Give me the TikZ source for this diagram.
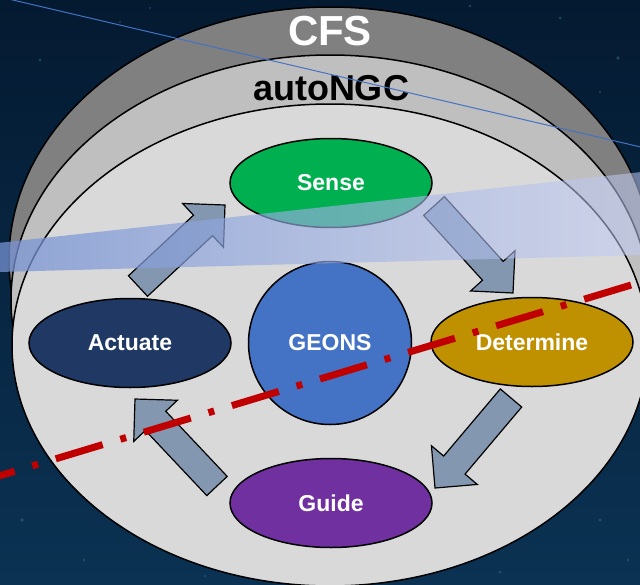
\documentclass[tikz,border=0pt]{standalone}
\usepackage{fontspec}
\setmainfont{Liberation Sans}
\usetikzlibrary{shapes.geometric,calc,fadings}

\definecolor{spacetop}{HTML}{041A31}
\definecolor{spacebot}{HTML}{0B3253}
\definecolor{speck}{HTML}{3A7BA0}
\definecolor{cfsgray}{HTML}{808080}
\definecolor{ngcgray}{HTML}{BFBFBF}
\definecolor{coregray}{HTML}{D9D9D9}
\definecolor{sensegreen}{HTML}{00B050}
\definecolor{actnavy}{HTML}{1F3864}
\definecolor{geonsblue}{HTML}{4472C4}
\definecolor{detgold}{HTML}{BF9000}
\definecolor{guidepurple}{HTML}{7030A0}
\definecolor{arrowfill}{HTML}{8497B0}
\definecolor{beamleft}{HTML}{7592D3}
\definecolor{beamright}{HTML}{C3CDF5}
\definecolor{trackred}{HTML}{C00000}
\definecolor{orbitblue}{HTML}{4472C4}

% the light beam is more opaque on its left end
\tikzfading[name=beamfade, left color=transparent!25, right color=transparent!46]

\tikzset{
  layer/.style={draw=black, line width=1.5pt},
  stage/.style={ellipse, draw=black, line width=1.5pt, inner sep=0pt,
    minimum width=202pt, minimum height=89pt, text=white,
    font=\fontsize{23}{26}\selectfont\bfseries},
  flow/.style={fill=arrowfill, draw=black, line width=1.2pt, line join=miter},
  title/.style={anchor=base, inner sep=0pt},
}

% block arrow from a tail point (#1) to a tip point (#2)
\newcommand{\flowarrow}[2]{%
  \coordinate (neck) at ($(#2)!30pt!(#1)$);
  \filldraw[flow] ($(#1)!14pt!90:(#2)$) -- ($(neck)!14pt!90:(#2)$)
    -- ($(neck)!30pt!90:(#2)$) -- (#2) -- ($(neck)!30pt!-90:(#2)$)
    -- ($(neck)!14pt!-90:(#2)$) -- ($(#1)!14pt!-90:(#2)$) -- cycle;}

\begin{document}
\begin{tikzpicture}[x=1pt,y=-1pt]
\useasboundingbox (0,0) rectangle (640,584);
\clip (0,0) rectangle (640,584);

% night sky
\shade[top color=spacetop, bottom color=spacebot] (0,0) rectangle (640,584);
\foreach \sx/\sy/\sr in {40/60/1.5, 120/22/1.2, 560/18/1.5, 600/92/1.2, 22/520/1.8,
  84/560/1.4, 600/520/1.6, 614/440/1.2, 500/572/1.5, 205/576/1.2, 28/420/1.5,
  618/58/1.8, 150/8/1.2, 470/6/1.4, 60/150/1.2, 628/560/1.4}
  \fill[speck, opacity=0.45] (\sx,\sy) circle[radius=\sr pt];

% stacked layers
\filldraw[layer, fill=cfsgray] (330,260) ellipse[x radius=321pt, y radius=253pt];
\filldraw[layer, fill=ngcgray] (330,300) ellipse[x radius=319pt, y radius=245pt];
\filldraw[layer, fill=coregray] (330,345) ellipse[x radius=318pt, y radius=241pt];

\node[title, text=white, font=\fontsize{42}{46}\selectfont\bfseries] (cfs) at (330,45) {CFS};
\node[title, text=black, font=\fontsize{36}{40}\selectfont\bfseries] (ngc) at (331,100) {autoNGC};

% loop stages
\node[stage, fill=sensegreen] (sense) at (331,183) {Sense};
\node[stage, fill=actnavy] (actuate) at (130,343) {Actuate};
\node[stage, fill=detgold] (determine) at (532,342) {Determine};
\node[stage, fill=guidepurple] (guide) at (331,503) {Guide};
\node[circle, draw=black, line width=1.5pt, fill=geonsblue, minimum size=163pt,
  inner sep=0pt, text=white, font=\fontsize{23}{26}\selectfont\bfseries] (geons) at (330,343) {GEONS};

% loop arrows
\coordinate (act-out) at (138,286);  \coordinate (sense-in) at (225,205);
\coordinate (sense-out) at (434,206); \coordinate (det-in) at (513,293);
\coordinate (det-out) at (511,398);  \coordinate (guide-in) at (435,488);
\coordinate (guide-out) at (217,486); \coordinate (act-in) at (135,399);
\flowarrow{act-out}{sense-in}
\flowarrow{sense-out}{det-in}
\flowarrow{det-out}{guide-in}
\flowarrow{guide-out}{act-in}

% light beam
\shade[left color=beamleft, right color=beamright, path fading=beamfade]
  (-2,243) -- (642,172) -- (642,255) -- (-2,272) -- cycle;

% orbit line
\coordinate (orbitA) at (0,-3);
\coordinate (orbitB) at (645,148);
\draw[orbitblue, line width=1pt] (orbitA) -- (orbitB);

% ground track
\coordinate (trackA) at (-32.3,485.4);
\coordinate (trackB) at (660,276.3);
\draw[trackred, line width=7pt, dash pattern=on 49pt off 18.5pt on 6pt off 18.5pt] (trackA) -- (trackB);
\end{tikzpicture}
\end{document}
